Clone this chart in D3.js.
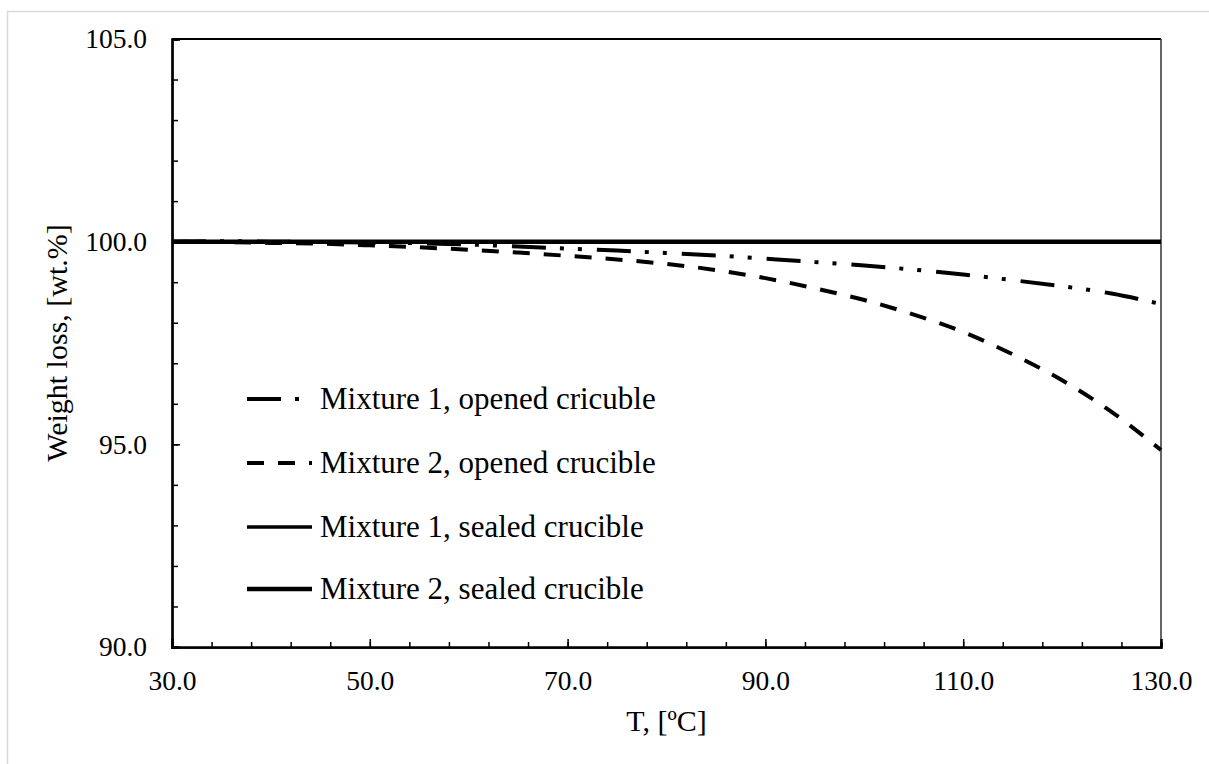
<!DOCTYPE html>
<html>
<head>
<meta charset="utf-8">
<script src="https://cdn.jsdelivr.net/npm/d3@7"></script>
<style>
  html, body { margin: 0; padding: 0; background: #fff; }
  svg { display: block; }
  text { font-family: "Liberation Serif", "Times New Roman", serif; fill: #000; }
</style>
</head>
<body>
<svg id="chart" width="1209" height="764"></svg>
<script>
// Temperature grid, °C
const temperature = [30, 35, 40, 45, 50, 55, 60, 65, 70, 75, 80, 85, 90, 95, 100, 105, 110, 115, 120, 125, 130];

// Remaining mass, wt.%
const mix1Opened = [100.00, 100.01, 100.00, 99.99, 99.98, 99.96, 99.93, 99.88, 99.83, 99.78, 99.72,
                    99.66, 99.58, 99.50, 99.41, 99.31, 99.19, 99.05, 98.90, 98.72, 98.46];
const mix2Opened = [100.00, 99.99, 99.97, 99.95, 99.91, 99.86, 99.80, 99.73, 99.65, 99.56, 99.45,
                    99.30, 99.10, 98.85, 98.56, 98.20, 97.77, 97.22, 96.58, 95.80, 94.86];
const sealedTemperature = [30, 130];
const mix1Sealed = [100.0, 100.0];
const mix2Sealed = [100.0, 100.0];

const seriesNames = [
  "Mixture 1, opened cricuble",
  "Mixture 2, opened crucible",
  "Mixture 1, sealed crucible",
  "Mixture 2, sealed crucible"
];

const xMajorTicks = [30, 50, 70, 90, 110, 130];
const xMinorTicks = d3.range(30, 130.001, 4);
const yMajorTicks = [90, 95, 100, 105];
const yMinorTicks = d3.range(90, 105.001, 1);

const xTitle = "T, [ºC]";
const yTitle = "Weight loss, [wt.%]";

// ---- layout ----
const svg = d3.select("#chart");
const plot = { left: 172, right: 1161, top: 39, bottom: 647 };
const tickFont = 27.5;
const titleFont = 30;
const legendFont = 31;

const x = d3.scaleLinear().domain([30, 130]).range([plot.left, plot.right]);
const y = d3.scaleLinear().domain([90, 105]).range([plot.bottom, plot.top]);

// outer chart-area border
svg.append("rect")
  .attr("x", 7.5).attr("y", 11.5)
  .attr("width", 1260).attr("height", 800)
  .attr("fill", "none").attr("stroke", "#d9d9d9").attr("stroke-width", 1.5);

// plot-area frame (top and right)
svg.append("line")
  .attr("x1", plot.left).attr("x2", plot.right)
  .attr("y1", plot.top).attr("y2", plot.top)
  .attr("stroke", "#000").attr("stroke-width", 2);
svg.append("line")
  .attr("x1", plot.right).attr("x2", plot.right)
  .attr("y1", plot.top).attr("y2", plot.bottom)
  .attr("stroke", "#333").attr("stroke-width", 1.5);

function styleAxis(g) {
  g.attr("font-family", null).attr("font-size", null);
  g.select(".domain").attr("stroke", "#000").attr("stroke-width", 2.25);
  g.selectAll(".tick line").attr("stroke", "#000").attr("stroke-width", 1.5);
  g.selectAll(".tick text")
    .style("font-family", '"Liberation Serif", "Times New Roman", serif')
    .style("font-size", tickFont + "px").attr("fill", "#000");
}

// x axis: minor then major ticks, pointing inward
svg.append("g")
  .attr("transform", `translate(0,${plot.bottom})`)
  .call(d3.axisBottom(x).tickValues(xMinorTicks).tickSize(-5).tickFormat(""))
  .call(styleAxis);
svg.append("g")
  .attr("transform", `translate(0,${plot.bottom})`)
  .call(d3.axisBottom(x).tickValues(xMajorTicks).tickSize(-8).tickPadding(23).tickFormat(d3.format(".1f")))
  .call(styleAxis);

// y axis
svg.append("g")
  .attr("transform", `translate(${plot.left},0)`)
  .call(d3.axisLeft(y).tickValues(yMinorTicks).tickSize(-6).tickFormat(""))
  .call(styleAxis);
svg.append("g")
  .attr("transform", `translate(${plot.left},0)`)
  .call(d3.axisLeft(y).tickValues(yMajorTicks).tickSize(-8).tickPadding(25).tickFormat(d3.format(".1f")))
  .call(styleAxis);

// axis titles
svg.append("text")
  .attr("x", (plot.left + plot.right) / 2).attr("y", 731)
  .attr("text-anchor", "middle")
  .style("font-size", titleFont + "px")
  .text(xTitle);
svg.append("text")
  .attr("transform", `translate(67,${(plot.top + plot.bottom) / 2}) rotate(-90)`)
  .attr("text-anchor", "middle")
  .style("font-size", titleFont + "px")
  .text(yTitle);

// ---- series ----
const styles = [
  { width: 4, dash: "34 14 4 14 4 15" },
  { width: 4, dash: "17 14" },
  { width: 3.5, dash: null },
  { width: 4.5, dash: null }
];

const series = [
  { t: temperature, v: mix1Opened },
  { t: temperature, v: mix2Opened },
  { t: sealedTemperature, v: mix1Sealed },
  { t: sealedTemperature, v: mix2Sealed }
];

const line = d3.line()
  .x(d => x(d[0]))
  .y(d => y(d[1]))
  .curve(d3.curveMonotoneX);

series.forEach((s, i) => {
  const pts = s.t.map((t, j) => [t, s.v[j]]);
  svg.append("path")
    .datum(pts)
    .attr("fill", "none")
    .attr("stroke", "#000")
    .attr("stroke-width", styles[i].width)
    .attr("stroke-dasharray", styles[i].dash)
    .attr("d", line);
});

// ---- legend ----
const legendRows = [399, 463, 527, 589];
const legend = svg.append("g");
seriesNames.forEach((name, i) => {
  const yy = legendRows[i];
  legend.append("line")
    .attr("x1", 247).attr("x2", 312)
    .attr("y1", yy).attr("y2", yy)
    .attr("stroke", "#000")
    .attr("stroke-width", styles[i].width)
    .attr("stroke-dasharray", styles[i].dash);
  legend.append("text")
    .attr("x", 320).attr("y", yy)
    .attr("dy", "0.33em")
    .style("font-size", legendFont + "px")
    .text(name);
});
</script>
</body>
</html>
